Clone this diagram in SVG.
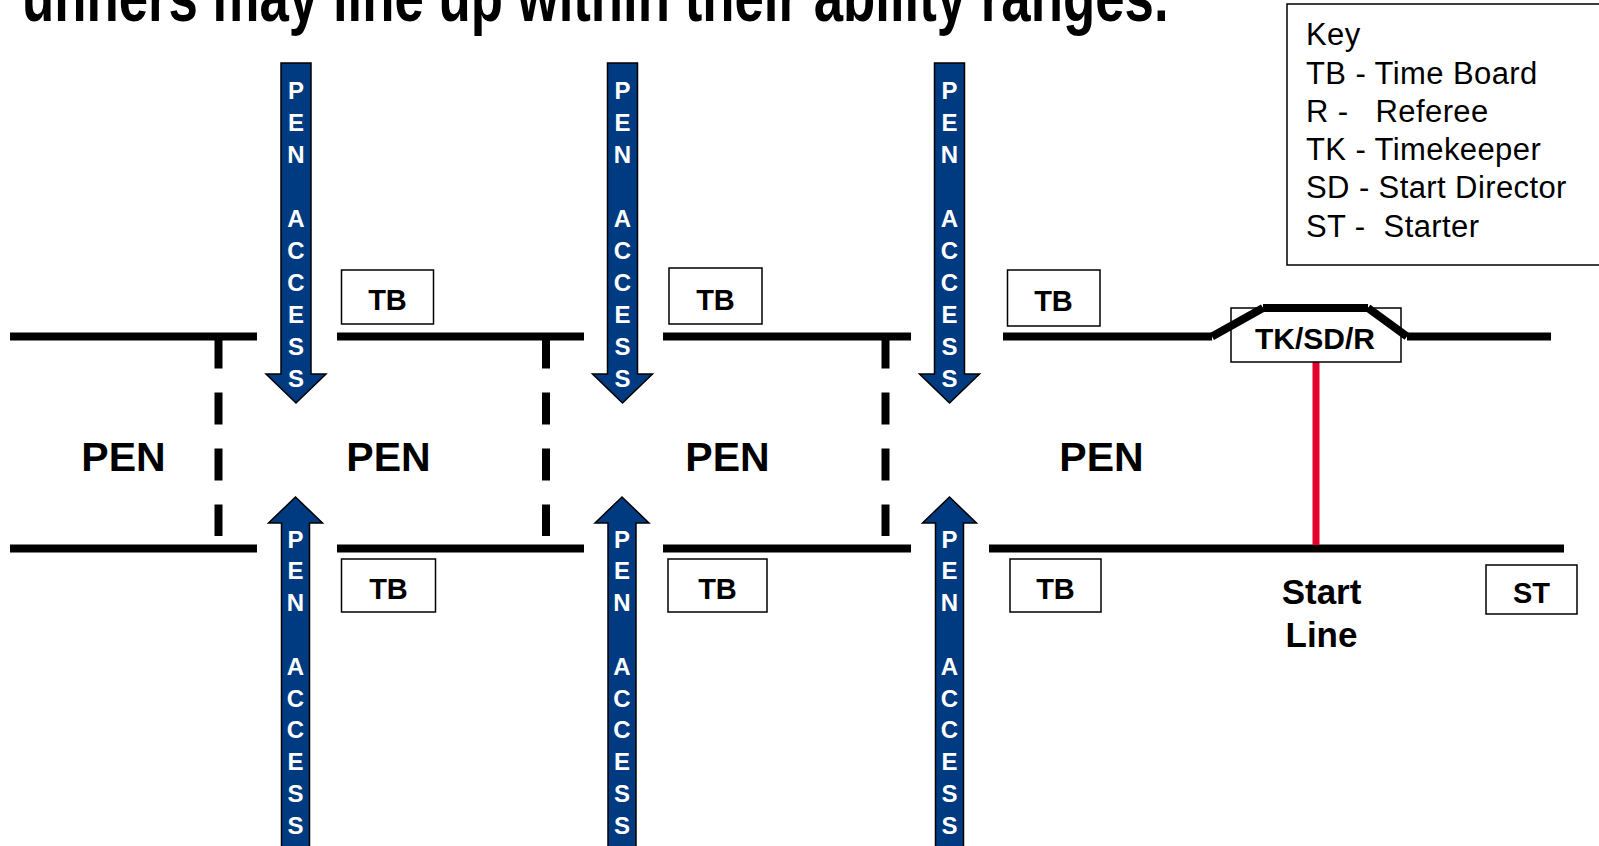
<svg xmlns="http://www.w3.org/2000/svg" width="1599" height="846" viewBox="0 0 1599 846">
<style>
.ln{stroke:#000;stroke-width:8;fill:none;stroke-linecap:butt}
.dash{stroke:#000;stroke-width:8;fill:none;stroke-dasharray:32 24}
.box{fill:#fff;stroke:#000;stroke-width:1.5}
.arr{fill:#003A80;stroke:#000;stroke-width:1.5;stroke-linejoin:miter}
.al{font-family:"Liberation Sans",Arial,sans-serif;font-weight:bold;font-size:24px;fill:#fff;text-anchor:middle}
.bl{font-family:"Liberation Sans",Arial,sans-serif;font-weight:bold;fill:#000;text-anchor:middle}
.key{font-family:"Liberation Sans",Arial,sans-serif;font-size:31px;letter-spacing:0.4px;fill:#000;white-space:pre}
</style>
<rect width="1599" height="846" fill="#fff"/>
<text transform="translate(22,21) scale(1.015,1.35)" x="0" y="0" font-family="Liberation Sans, Arial, sans-serif" font-weight="bold" font-size="52" fill="#000">unners may line up within their ability ranges.</text>

<g id="key">
<rect class="box" x="1287" y="4" width="330" height="261"/>
<text class="key" x="1306" y="45">Key</text>
<text class="key" x="1306" y="83.5">TB - Time Board</text>
<text class="key" x="1306" y="121.5">R -   Referee</text>
<text class="key" x="1306" y="160">TK - Timekeeper</text>
<text class="key" x="1306" y="198">SD - Start Director</text>
<text class="key" x="1306" y="236.5">ST -  Starter</text>
</g>

<g id="connectors">
<line class="ln" x1="10" y1="336.5" x2="257" y2="336.5"/>
<line class="ln" x1="337" y1="336.5" x2="584" y2="336.5"/>
<line class="ln" x1="663" y1="336.5" x2="911" y2="336.5"/>
<line class="ln" x1="1003" y1="336.5" x2="1212" y2="336.5"/>
<line class="ln" x1="1212" y1="336.5" x2="1263" y2="308"/>
<line class="ln" x1="1263" y1="308" x2="1368" y2="308"/>
<line class="ln" x1="1368" y1="308" x2="1407" y2="336.5"/>
<line class="ln" x1="1407" y1="336.5" x2="1551" y2="336.5"/>
<line class="ln" x1="10" y1="548.5" x2="257" y2="548.5"/>
<line class="ln" x1="337" y1="548.5" x2="584" y2="548.5"/>
<line class="ln" x1="663" y1="548.5" x2="911" y2="548.5"/>
<line class="ln" x1="989" y1="548.5" x2="1564" y2="548.5"/>
<line class="dash" x1="218.5" y1="336.5" x2="218.5" y2="536"/>
<line class="dash" x1="546" y1="336.5" x2="546" y2="536"/>
<line class="dash" x1="885.5" y1="336.5" x2="885.5" y2="536"/>
<line x1="1316" y1="362" x2="1316" y2="545" stroke="#E4002B" stroke-width="7"/>
</g>

<g id="pen-labels">
<text class="bl" x="123.5" y="471" font-size="41">PEN</text>
<text class="bl" x="388.5" y="471" font-size="41">PEN</text>
<text class="bl" x="727.5" y="471" font-size="41">PEN</text>
<text class="bl" x="1101.5" y="471" font-size="41">PEN</text>
</g>

<g id="tb-top-1"><rect class="box" x="341.5" y="270" width="92" height="54"/><text class="bl" x="387.5" y="310" font-size="29">TB</text></g>
<g id="tb-top-2"><rect class="box" x="669" y="268" width="93" height="56"/><text class="bl" x="715.5" y="310" font-size="29">TB</text></g>
<g id="tb-top-3"><rect class="box" x="1007.5" y="270" width="92.5" height="56"/><text class="bl" x="1053.5" y="311" font-size="29">TB</text></g>
<g id="tb-bot-1"><rect class="box" x="341.5" y="559" width="94" height="53"/><text class="bl" x="388.5" y="599" font-size="29">TB</text></g>
<g id="tb-bot-2"><rect class="box" x="668" y="559" width="99" height="53"/><text class="bl" x="717.5" y="599" font-size="29">TB</text></g>
<g id="tb-bot-3"><rect class="box" x="1010" y="559" width="91" height="53"/><text class="bl" x="1055.5" y="599" font-size="29">TB</text></g>
<g id="st"><rect class="box" x="1486" y="565" width="91" height="49"/><text class="bl" x="1531.5" y="603" font-size="29">ST</text></g>
<g id="tksdr"><rect x="1231" y="308" width="170" height="54" fill="none" stroke="#000" stroke-width="1.5"/><text class="bl" x="1315" y="349" font-size="30">TK/SD/R</text></g>
<g id="start-line"><text class="bl" x="1321.5" y="604" font-size="35">Start</text><text class="bl" x="1321.5" y="647" font-size="35">Line</text></g>

<g id="arrow-top-1">
<path class="arr" d="M281,63 H311 V374 H326 L296,403 L266,374 H281 Z"/>
<text class="al"><tspan x="296" y="98.6">P</tspan><tspan x="296" y="130.6">E</tspan><tspan x="296" y="162.6">N</tspan><tspan x="296" y="226.6">A</tspan><tspan x="296" y="258.6">C</tspan><tspan x="296" y="290.6">C</tspan><tspan x="296" y="322.6">E</tspan><tspan x="296" y="354.6">S</tspan><tspan x="296" y="386.6">S</tspan></text>
</g>
<g id="arrow-top-2">
<path class="arr" d="M607.5,63 H637.5 V374 H652.5 L622.5,403 L592.5,374 H607.5 Z"/>
<text class="al"><tspan x="622.5" y="98.6">P</tspan><tspan x="622.5" y="130.6">E</tspan><tspan x="622.5" y="162.6">N</tspan><tspan x="622.5" y="226.6">A</tspan><tspan x="622.5" y="258.6">C</tspan><tspan x="622.5" y="290.6">C</tspan><tspan x="622.5" y="322.6">E</tspan><tspan x="622.5" y="354.6">S</tspan><tspan x="622.5" y="386.6">S</tspan></text>
</g>
<g id="arrow-top-3">
<path class="arr" d="M934.5,63 H964.5 V374 H979.5 L949.5,403 L919.5,374 H934.5 Z"/>
<text class="al"><tspan x="949.5" y="98.6">P</tspan><tspan x="949.5" y="130.6">E</tspan><tspan x="949.5" y="162.6">N</tspan><tspan x="949.5" y="226.6">A</tspan><tspan x="949.5" y="258.6">C</tspan><tspan x="949.5" y="290.6">C</tspan><tspan x="949.5" y="322.6">E</tspan><tspan x="949.5" y="354.6">S</tspan><tspan x="949.5" y="386.6">S</tspan></text>
</g>
<g id="arrow-bot-1">
<path class="arr" d="M295.5,497 L322.5,523 H309.5 V852 H281.5 V523 H268.5 Z"/>
<text class="al"><tspan x="295.5" y="547.6">P</tspan><tspan x="295.5" y="579.4">E</tspan><tspan x="295.5" y="611.2">N</tspan><tspan x="295.5" y="674.8">A</tspan><tspan x="295.5" y="706.6">C</tspan><tspan x="295.5" y="738.4">C</tspan><tspan x="295.5" y="770.2">E</tspan><tspan x="295.5" y="802">S</tspan><tspan x="295.5" y="833.8">S</tspan></text>
</g>
<g id="arrow-bot-2">
<path class="arr" d="M622,497 L649,523 H636 V852 H608 V523 H595 Z"/>
<text class="al"><tspan x="622" y="547.6">P</tspan><tspan x="622" y="579.4">E</tspan><tspan x="622" y="611.2">N</tspan><tspan x="622" y="674.8">A</tspan><tspan x="622" y="706.6">C</tspan><tspan x="622" y="738.4">C</tspan><tspan x="622" y="770.2">E</tspan><tspan x="622" y="802">S</tspan><tspan x="622" y="833.8">S</tspan></text>
</g>
<g id="arrow-bot-3">
<path class="arr" d="M949.5,497 L976.5,523 H963.5 V852 H935.5 V523 H922.5 Z"/>
<text class="al"><tspan x="949.5" y="547.6">P</tspan><tspan x="949.5" y="579.4">E</tspan><tspan x="949.5" y="611.2">N</tspan><tspan x="949.5" y="674.8">A</tspan><tspan x="949.5" y="706.6">C</tspan><tspan x="949.5" y="738.4">C</tspan><tspan x="949.5" y="770.2">E</tspan><tspan x="949.5" y="802">S</tspan><tspan x="949.5" y="833.8">S</tspan></text>
</g>
</svg>
